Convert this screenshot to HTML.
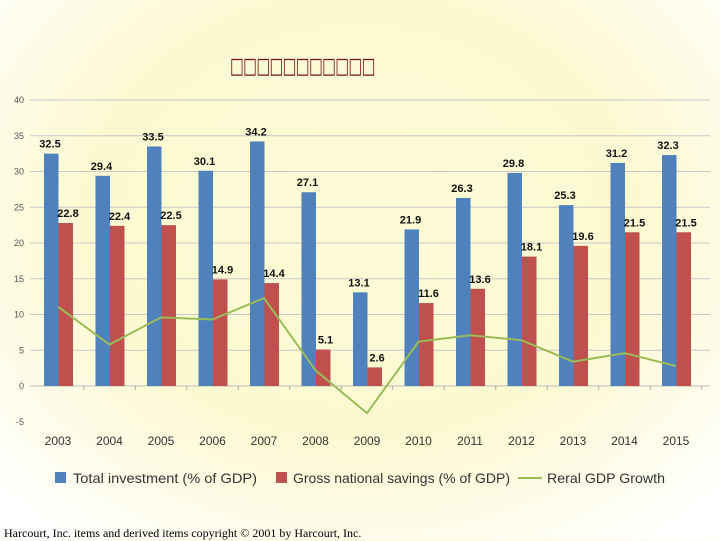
<!DOCTYPE html>
<html><head><meta charset="utf-8"><style>
html,body{margin:0;padding:0}
body{width:720px;height:540px;overflow:hidden;position:relative;font-family:"Liberation Sans",sans-serif;
background:radial-gradient(ellipse 70% 75% at 50% 40%,#fdfbd6 0%,#fcf9d2 55%,#fefdf0 85%,#ffffff 100%);}
#title{position:absolute;left:230px;top:54px;font-size:22px;font-weight:bold;color:#7a1414;letter-spacing:-1px;font-family:"DejaVu Sans",sans-serif;transform:scaleX(0.665);transform-origin:left top;white-space:nowrap}
#foot{position:absolute;left:4px;top:526px;font-family:"Liberation Serif",serif;font-size:12px;color:#000}
</style></head><body>
<div id="title">□□□□□□□□□□□</div>
<svg id="chart" width="720" height="540" style="position:absolute;left:0;top:0"></svg>
<div id="foot">Harcourt, Inc. items and derived items copyright © 2001 by Harcourt, Inc.</div>
<script>
const years=["2003","2004","2005","2006","2007","2008","2009","2010","2011","2012","2013","2014","2015"];
const investment=[32.5,29.4,33.5,30.1,34.2,27.1,13.1,21.9,26.3,29.8,25.3,31.2,32.3];
const savings=[22.8,22.4,22.5,14.9,14.4,5.1,2.6,11.6,13.6,18.1,19.6,21.5,21.5];
const growth=[11.1,5.8,9.6,9.3,12.3,2.2,-3.8,6.2,7.1,6.4,3.4,4.6,2.8];
const yTicks=[40,35,30,25,20,15,10,5,0,-5];
const NS="http://www.w3.org/2000/svg";
const svg=document.getElementById('chart');
const y=v=>386-(v)*7.15;
const xc=i=>58+i*51.5;
function mk(t,a){const e=document.createElementNS(NS,t);for(const k in a)e.setAttribute(k,a[k]);svg.appendChild(e);return e;}
yTicks.forEach(v=>{
  if(v>-5){const l=mk('line',{x1:30,x2:710,y1:y(v),y2:y(v),stroke:v===0?'#bdbdbd':'#c8c8c8','stroke-width':1});
  
  }
  const t=mk('text',{x:24,y:y(v)+3,'text-anchor':'end','font-size':9,fill:'#555'});t.textContent=v;
  
  
});
years.forEach((yr,i)=>{
  const tk=mk('line',{x1:xc(i)+25.75,x2:xc(i)+25.75,y1:386,y2:390,stroke:'#aaa'});
  
  
  const b=mk('rect',{x:xc(i)-14,y:y(investment[i]),width:14.5,height:386-y(investment[i]),fill:'#4f81bd'});
  
  
  const r=mk('rect',{x:xc(i)+0.5,y:y(savings[i]),width:14.5,height:386-y(savings[i]),fill:'#c0504d'});
  
  
  const t1=mk('text',{x:xc(i)-8,y:y(investment[i])-6,'text-anchor':'middle','font-size':11,'font-weight':'bold',fill:'#111'});t1.textContent=investment[i].toFixed(1);
  
  
  const t2=mk('text',{x:xc(i)+10,y:y(savings[i])-6,'text-anchor':'middle','font-size':11,'font-weight':'bold',fill:'#111'});t2.textContent=savings[i].toFixed(1);
  
  
  const xl=mk('text',{x:xc(i),y:445,'text-anchor':'middle','font-size':12,fill:'#333'});xl.textContent=yr;
  
  
});
const pl=mk('polyline',{points:growth.map((v,i)=>xc(i)+','+y(v)).join(' '),fill:'none',stroke:'#9bbb59','stroke-width':2});


const leg=[["rect","#4f81bd","Total investment (% of GDP)",55,73,184],["rect","#c0504d","Gross national savings (% of GDP)",276,293,217],["line","#9bbb59","Reral GDP Growth",518,547,118]];
leg.forEach(l=>{
  if(l[0]==="rect"){const s=mk('rect',{x:l[3],y:472,width:11,height:11,fill:l[1]});}
  else{const s=mk('line',{x1:l[3],x2:l[3]+24,y1:478,y2:478,stroke:l[1],'stroke-width':2});}
  const t=mk('text',{x:l[4],y:483,'font-size':14,fill:'#333',textLength:l[5],lengthAdjust:'spacingAndGlyphs'});t.textContent=l[2];
  
  
});
</script>
</body></html>
